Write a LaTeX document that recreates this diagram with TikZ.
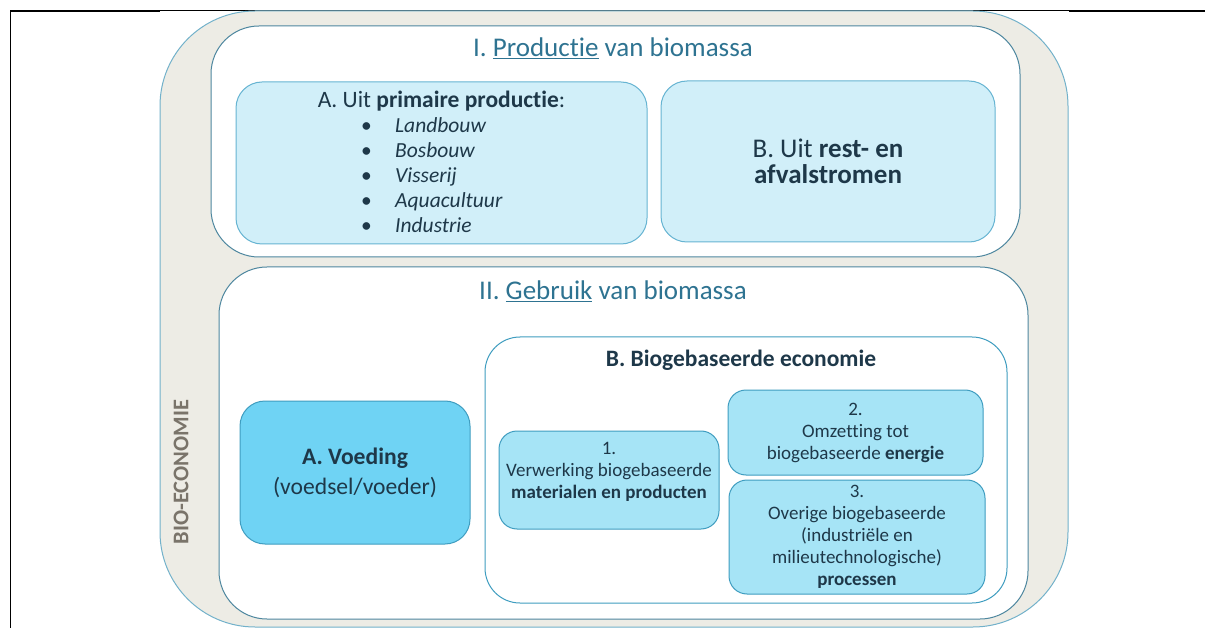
\documentclass[tikz,border=0pt]{standalone}
\usepackage{fontspec}
\setmainfont{Carlito}[Ligatures=NoCommon]
\usepackage{xcolor}
\usepackage{tikz}
\usetikzlibrary{positioning}
\definecolor{bioFill}{HTML}{EDECE5}
\definecolor{bioLine}{HTML}{72B1CA}
\definecolor{mainLine}{HTML}{4E879F}
\definecolor{paleFill}{HTML}{D1EFF9}
\definecolor{paleLine}{HTML}{66B4D2}
\definecolor{deepFill}{HTML}{6FD3F4}
\definecolor{midFill}{HTML}{A6E4F6}
\definecolor{boxLine}{HTML}{3F9DC0}
\definecolor{txtDark}{HTML}{1E3849}
\definecolor{txtTitle}{HTML}{2E7391}
\definecolor{txtGrey}{HTML}{7A746A}
\tikzset{	x=1pt, y=-1pt,
	rbox/.style={
		rectangle,
		line width=1pt,
		inner sep=0pt},
	outerbox/.style={rbox,
		draw=bioLine,
		fill=bioFill,
		rounded corners=95pt},
	partbox/.style={rbox,
		draw=mainLine,
		fill=white,
		rounded corners=48pt},
	palebox/.style={rbox,
		draw=paleLine,
		fill=paleFill,
		rounded corners=26pt},
	subbox/.style={rbox,
		draw=boxLine,
		fill=midFill,
		rounded corners=18pt,
		text=txtDark,
		align=center,
		font=\fontsize{19}{22}\selectfont},
	title/.style={
		text=txtTitle,
		font=\fontsize{27}{30}\selectfont},
	body/.style={
		text=txtDark,
		align=center,
		inner sep=0pt}
}

\begin{document}
\begin{tikzpicture}
	\useasboundingbox (0,0) rectangle (1205,628);
	% frame lines
	\draw[line width=1.5pt] (10.5,628) -- (10.5,11) -- (160,11);
	\draw[line width=0.8pt] (160,10) -- (1069,10);
	\draw[line width=1.5pt] (1069,11) -- (1205,11);
	% bio-economie
	\node[outerbox, minimum width=908, minimum height=616] (bioeco) at (614,319) {};
	\node[body, rotate=90, text=txtGrey, font=\fontsize{22.4}{26}\selectfont\bfseries] (biolabel) at (181,472) {BIO-ECONOMIE};
	% I. productie
	\node[partbox, minimum width=809, minimum height=231] (prodbox) at (615.5,141.5) {};
	\node[title] (prodtitle) at (613,48) {I. \underline{Productie} van biomassa};
	\node[palebox, minimum width=411, minimum height=162] (primbox) at (441.5,163) {};
	\node[body, font=\fontsize{23.5}{25}\selectfont] (primtitle) at (441.5,101) {A. Uit \textbf{primaire productie}:};
	\foreach \name [count=\i] in {Landbouw,Bosbouw,Visserij,Aquacultuur,Industrie}
		\node[body, anchor=base west, font=\fontsize{21.5}{25}\selectfont] (item\i) at (361,108+25*\i) {\makebox[34pt][l]{\textbullet}\textit{\name}};
	\node[palebox, minimum width=334, minimum height=161, body, font=\fontsize{27}{26}\selectfont] (restbox) at (828,161.5) {B. Uit \textbf{rest- en}\\\textbf{afvalstromen}};
	% II. gebruik
	\node[partbox, minimum width=809, minimum height=352] (gebrbox) at (623.5,443) {};
	\node[title] (gebrtitle) at (613,291) {II. \underline{Gebruik} van biomassa};
	\node[rbox, draw=boxLine, fill=deepFill, rounded corners=25pt, minimum width=230, minimum height=143,
		body, font=\fontsize{23.6}{30}\selectfont] (voedbox) at (355,472.5) {\textbf{A. Voeding}\\(voedsel/voeder)};
	\node[rbox, draw=boxLine, fill=white, rounded corners=35pt, minimum width=522, minimum height=266] (biobbox) at (746,470) {};
	\node[body, font=\fontsize{23.5}{25}\selectfont\bfseries] (biobtitle) at (741,360) {B. Biogebaseerde economie};
	\node[subbox, minimum width=220, minimum height=98] (matbox) at (609,480) {};
	\node[body, font=\fontsize{19}{22}\selectfont] (mattext) at (609,472) {1.\\Verwerking biogebaseerde\\\textbf{materialen en producten}};
	\node[subbox, minimum width=255, minimum height=85] (enbox) at (855.5,432.5) {2.\\Omzetting tot\\biogebaseerde \textbf{energie}};
	\node[subbox, minimum width=256, minimum height=114] (procbox) at (857,537) {3.\\Overige biogebaseerde\\(industriële en\\milieutechnologische)\\\textbf{processen}};
\end{tikzpicture}
\end{document}
